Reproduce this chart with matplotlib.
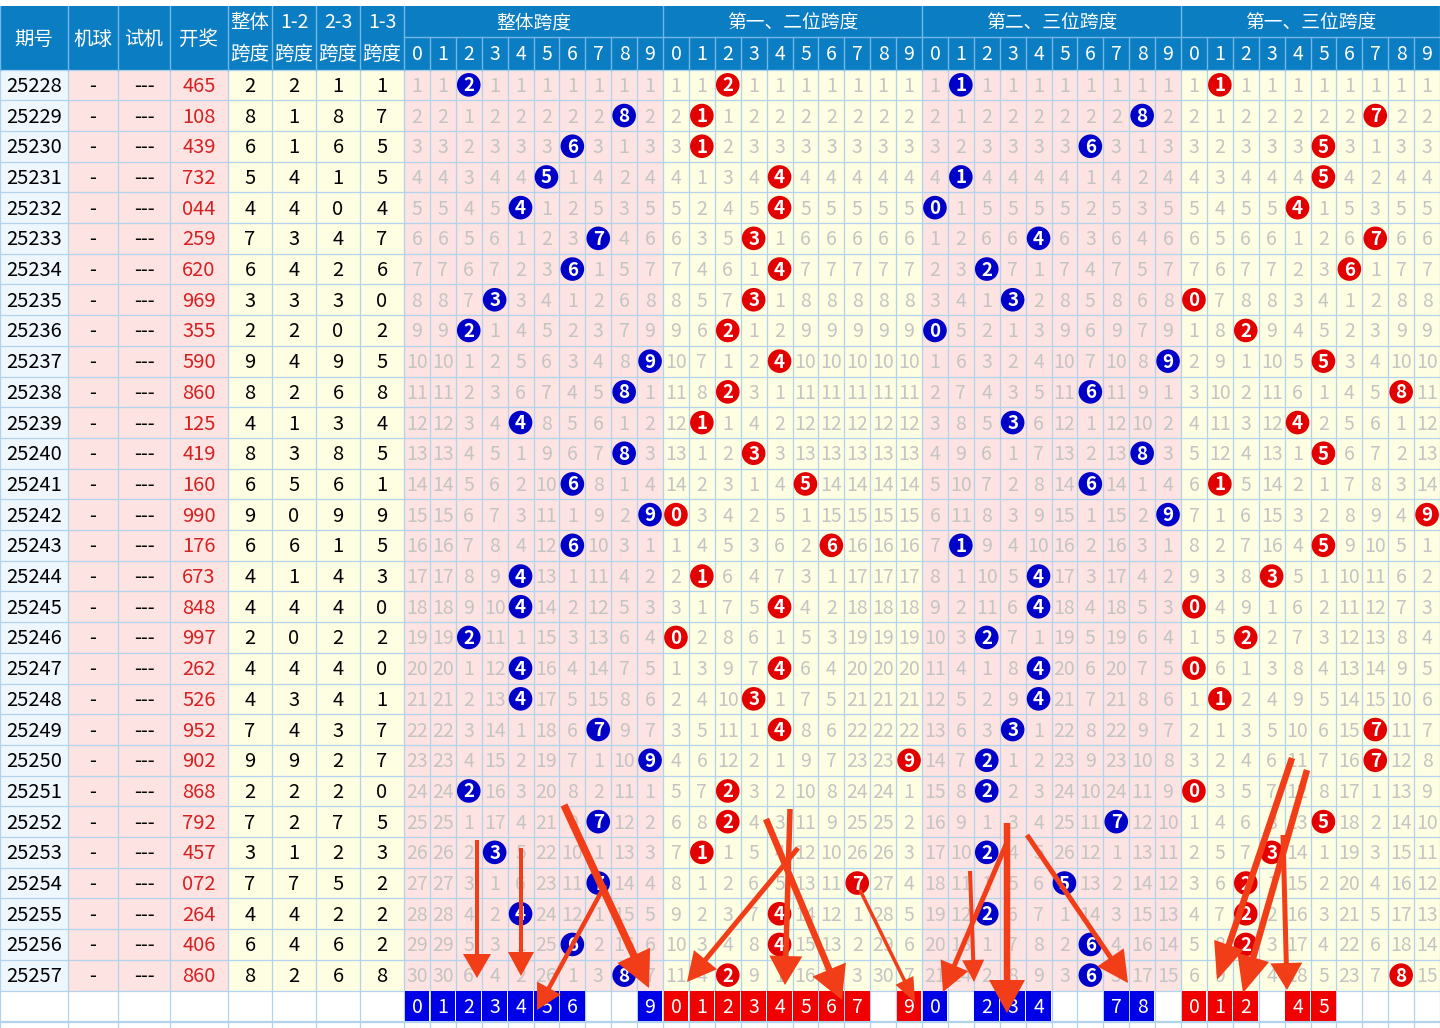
import matplotlib.pyplot as plt
from matplotlib.patches import Rectangle, Circle

plt.rcParams['font.family'] = ['Noto Sans CJK SC', 'DejaVu Sans']

periods = ['25228', '25229', '25230', '25231', '25232', '25233', '25234', '25235', '25236', '25237',
           '25238', '25239', '25240', '25241', '25242', '25243', '25244', '25245', '25246', '25247',
           '25248', '25249', '25250', '25251', '25252', '25253', '25254', '25255', '25256', '25257']
draws = ['465', '108', '439', '732', '044', '259', '620', '969', '355', '590',
         '860', '125', '419', '160', '990', '176', '673', '848', '997', '262',
         '526', '952', '902', '868', '792', '457', '072', '264', '406', '860']
span_all = [2, 8, 6, 5, 4, 7, 6, 3, 2, 9, 8, 4, 8, 6, 9, 6, 4, 4, 2, 4, 4, 7, 9, 2, 7, 3, 7, 4, 6, 8]
span_12 = [2, 1, 1, 4, 4, 3, 4, 3, 2, 4, 2, 1, 3, 5, 0, 6, 1, 4, 0, 4, 3, 4, 9, 2, 2, 1, 7, 4, 4, 2]
span_23 = [1, 8, 6, 1, 0, 4, 2, 3, 0, 9, 6, 3, 8, 6, 9, 1, 4, 4, 2, 4, 4, 3, 2, 2, 7, 2, 5, 2, 6, 6]
span_13 = [1, 7, 5, 5, 4, 7, 6, 0, 2, 5, 8, 4, 5, 1, 9, 5, 3, 0, 2, 0, 1, 7, 7, 0, 5, 3, 2, 2, 2, 8]

pick_all = [0, 1, 2, 3, 4, 5, 6, 9]
pick_12 = [0, 1, 2, 3, 4, 5, 6, 7, 9]
pick_23 = [0, 2, 3, 4, 7, 8]
pick_13 = [0, 1, 2, 4, 5]

left_heads = ['期号', '机球', '试机', '开奖']
span_heads = [('整体', '跨度'), ('1-2', '跨度'), ('2-3', '跨度'), ('1-3', '跨度')]
section_titles = ['整体跨度', '第一、二位跨度', '第二、三位跨度', '第一、三位跨度']

# hand drawn arrows (x0, y0, x1, y1, shaft, head width, head length) in pixels
arrows = [
    (477, 840, 477, 978, 4, 28, 24), (521, 848, 521, 976, 4, 26, 24),
    (564, 805, 649, 988, 7.5, 36, 36), (605, 885, 537, 1010, 4.5, 27, 25),
    (798, 848, 687, 982, 5, 30, 29), (790, 809, 785, 985, 5.5, 33, 29),
    (766, 819, 842, 1000, 6.5, 36, 33), (860, 890, 915, 1002, 3.5, 20, 24),
    (1008, 840, 943, 992, 5, 30, 29), (970, 871, 974, 982, 4, 22, 22),
    (1007, 823, 1007, 1013, 6.5, 36, 33), (1027, 835, 1128, 983, 5, 32, 31),
    (1292, 758, 1217, 980, 6.5, 31, 37), (1307, 770, 1243, 993, 6.5, 33, 37),
    (1283, 835, 1287, 990, 5, 32, 27),
]

HEAD_BG = '#0b7dc2'
HEAD_LINE = '#74b7e6'
GRID = '#b2d3ee'
PINK = '#fde3e1'
YELLOW = '#fefee2'
LBLUE = '#eef6fe'
GRAY = '#c4c4c4'
BLUE = '#0000c8'
RED = '#e20000'
ARROW = '#f13e18'

fig = plt.figure(figsize=(14.4, 10.28), dpi=100)
ax = fig.add_axes([0, 0, 1, 1])
ax.set_xlim(0, 1440)
ax.set_ylim(1028, 0)
ax.axis('off')

left_w = [68, 50, 52, 58, 44, 44, 44, 44]
xe = [0]
for w in left_w:
    xe.append(xe[-1] + w)
x0 = xe[-1]
cw = (1440 - x0) / 40
for k in range(1, 41):
    xe.append(x0 + k * cw)

top, mid, hb = 5.5, 37, 69.5
rh = 30.7
n = len(periods)
ye = [hb + i * rh for i in range(n + 2)]
data_bot = ye[n]
pick_bot = ye[n + 1]
dy = 1.5  # text baseline nudge

# header background
ax.add_patch(Rectangle((0, top), 1440, hb - top, color=HEAD_BG, lw=0, zorder=1))

# column band colours
band = [LBLUE, PINK, PINK, PINK, YELLOW, YELLOW, YELLOW, YELLOW]
band += [PINK] * 10 + [YELLOW] * 10 + [PINK] * 10 + [YELLOW] * 10
for c, col in enumerate(band):
    ax.add_patch(Rectangle((xe[c], hb), xe[c + 1] - xe[c], data_bot - hb, color=col, lw=0, zorder=1))

# grid
for x in xe:
    ax.plot([x, x], [hb, 1028], color=GRID, lw=0.9, zorder=2)
for y in ye:
    ax.plot([0, 1440], [y, y], color=GRID, lw=0.9, zorder=2)
ax.plot([0, 1440], [1021.5, 1021.5], color=GRID, lw=0.9, zorder=2)
for c, x in enumerate(xe):
    if c <= 8 or (c - 8) % 10 == 0:
        ax.plot([x, x], [top, hb], color=HEAD_LINE, lw=1, zorder=2)
    else:
        ax.plot([x, x], [mid, hb], color=HEAD_LINE, lw=1, zorder=2)
ax.plot([x0, 1440], [mid, mid], color=HEAD_LINE, lw=1, zorder=2)

# header text
for c, t in enumerate(left_heads):
    ax.text((xe[c] + xe[c + 1]) / 2, (top + hb) / 2 + dy, t, color='white', fontsize=14,
            ha='center', va='center', zorder=3)
for c, (t1, t2) in enumerate(span_heads):
    cx = (xe[c + 4] + xe[c + 5]) / 2
    ax.text(cx, (top + mid) / 2 + dy, t1, color='white', fontsize=14, ha='center', va='center', zorder=3)
    ax.text(cx, (mid + hb) / 2 + dy, t2, color='white', fontsize=14, ha='center', va='center', zorder=3)
for s, t in enumerate(section_titles):
    ax.text(x0 + (s * 10 + 5) * cw, (top + mid) / 2 + dy, t, color='white', fontsize=13.5,
            ha='center', va='center', zorder=3)
    for d in range(10):
        ax.text(x0 + (s * 10 + d + 0.5) * cw, (mid + hb) / 2 + dy, str(d), color='white', fontsize=14,
                ha='center', va='center', zorder=3)

# left columns
for i in range(n):
    cy = (ye[i] + ye[i + 1]) / 2
    row = [(periods[i], 'black'), ('-', 'black'), ('---', 'black'), (draws[i], '#d42222'),
           (str(span_all[i]), 'black'), (str(span_12[i]), 'black'),
           (str(span_23[i]), 'black'), (str(span_13[i]), 'black')]
    for c, (t, col) in enumerate(row):
        ax.text((xe[c] + xe[c + 1]) / 2, cy + dy, t, color=col, fontsize=14.5,
                ha='center', va='center', zorder=3)

# omission grids
sections = [(span_all, BLUE), (span_12, RED), (span_23, BLUE), (span_13, RED)]
for s, (spans, bcol) in enumerate(sections):
    last = [-1] * 10
    for i in range(n):
        cy = (ye[i] + ye[i + 1]) / 2
        for d in range(10):
            cx = x0 + (s * 10 + d + 0.5) * cw
            if spans[i] == d:
                ax.add_patch(Circle((cx, cy), 11.8, color=bcol, lw=0, zorder=4))
                ax.text(cx, cy + 1, str(d), color='white', fontsize=13.5, fontweight='bold',
                        ha='center', va='center', zorder=5)
                last[d] = i
            else:
                ax.text(cx, cy + dy, str(i - last[d]), color=GRAY, fontsize=14,
                        ha='center', va='center', zorder=3)

# bottom pick row
picks = [(pick_all, '#0000e6'), (pick_12, '#f00000'), (pick_23, '#0000e6'), (pick_13, '#f00000')]
for s, (pk, col) in enumerate(picks):
    for d in pk:
        xl = x0 + (s * 10 + d) * cw
        ax.add_patch(Rectangle((xl + 0.6, ye[n] + 0.6), cw - 1.2, rh - 1.2, color=col, lw=0, zorder=4))
        ax.text(xl + cw / 2, (ye[n] + pick_bot) / 2 + dy, str(d), color='white', fontsize=14,
                ha='center', va='center', zorder=5)

# arrows
for xa, ya, xb, yb, sw, hw, hl in arrows:
    ax.arrow(xa, ya, xb - xa, yb - ya, width=sw, head_width=hw, head_length=hl,
             length_includes_head=True, color=ARROW, lw=0, zorder=10)

fig.savefig('out.png', dpi=100)
